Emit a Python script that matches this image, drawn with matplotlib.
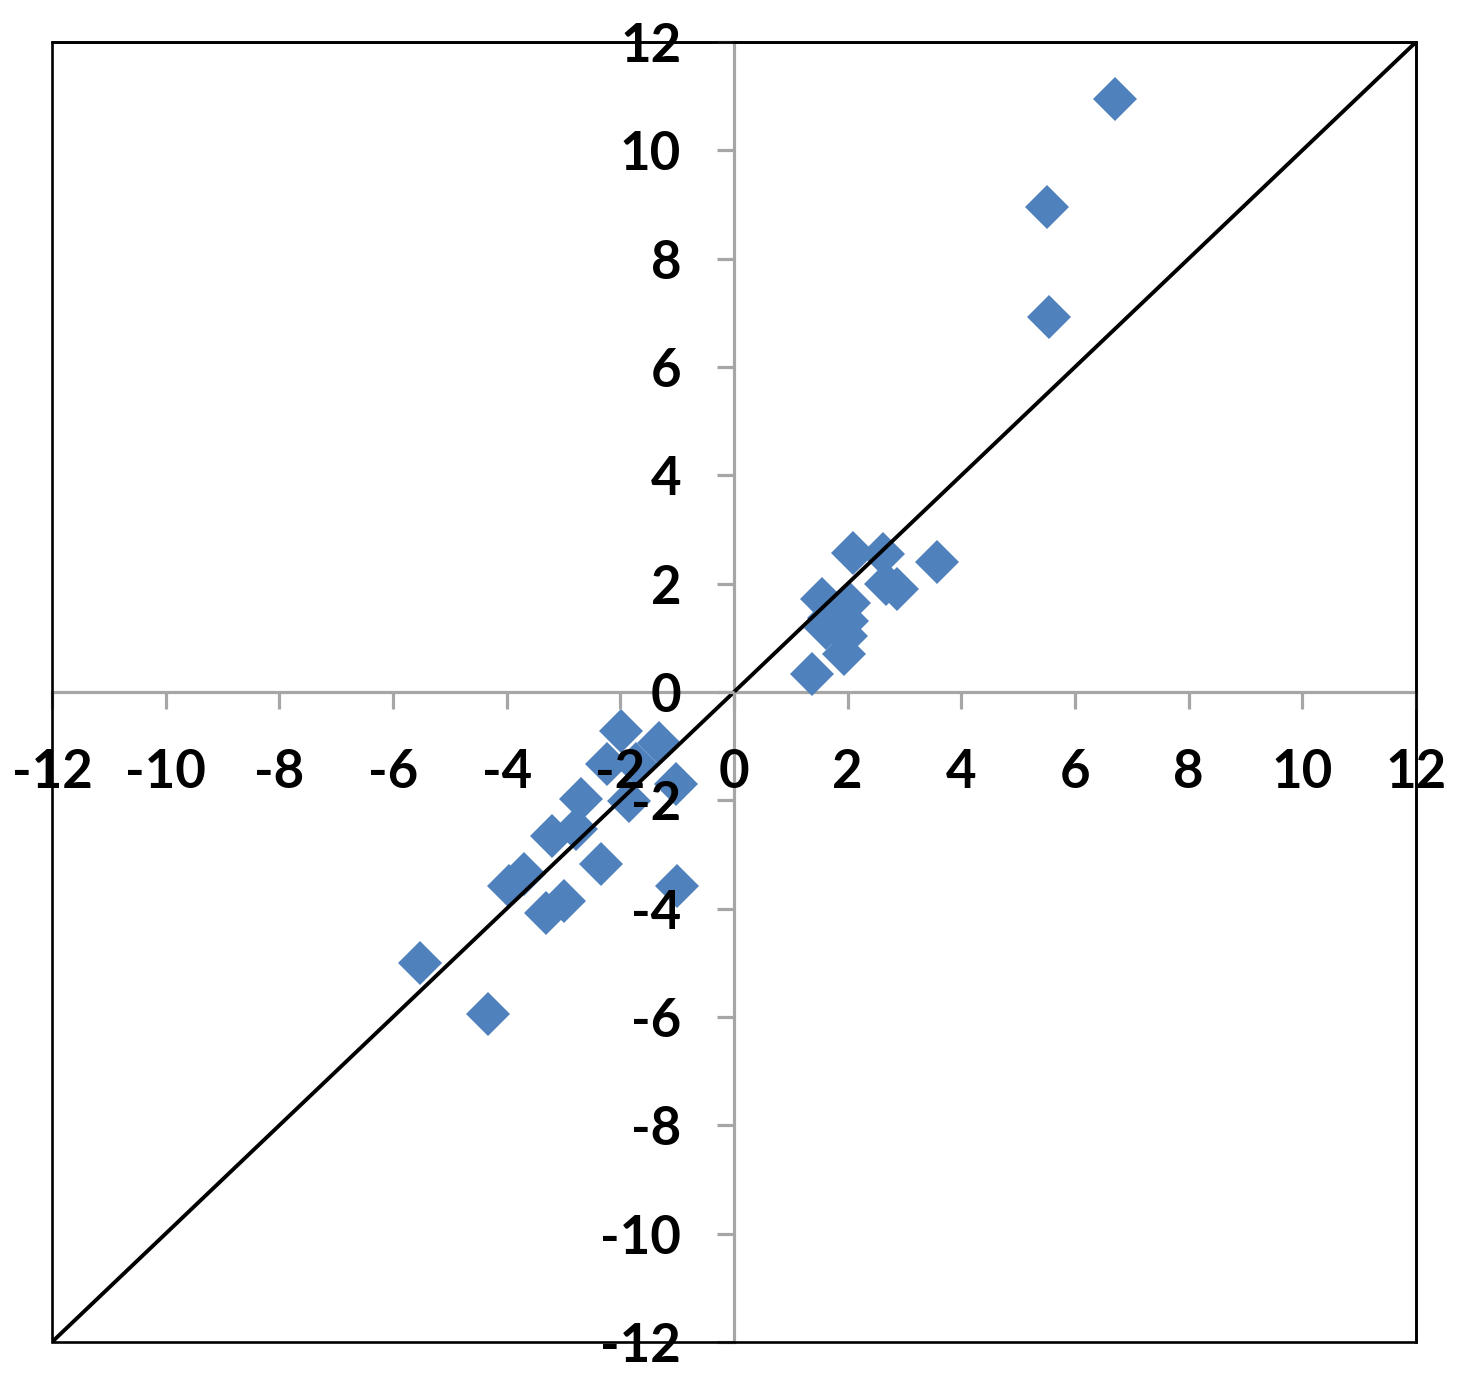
import matplotlib
matplotlib.use("Agg")
import matplotlib.pyplot as plt
from matplotlib.patches import Rectangle

# Data
x_vals = [6.7, 5.5, 5.55, 3.57, 2.1, 2.62, 2.68, 2.87, 1.55, 2.02, 1.67, 1.99,
          1.62, 1.97, 1.94, 1.37, -1.99, -1.32, -2.24, -1.73, -1.02, -1.85,
          -2.69, -2.78, -3.2, -2.34, -1.0, -3.96, -3.7, -3.31, -2.99, -5.53, -4.33]
y_vals = [10.95, 8.96, 6.93, 2.4, 2.57, 2.55, 2.0, 1.9, 1.72, 1.65, 1.37, 1.31,
          1.18, 1.04, 0.7, 0.33, -0.72, -0.94, -1.33, -1.33, -1.7, -2.01,
          -1.98, -2.53, -2.66, -3.18, -3.59, -3.59, -3.36, -4.08, -3.86, -5.01, -5.95]
line_x = [-12, 12]
line_y = [-12, 12]
ticks = [-12, -10, -8, -6, -4, -2, 0, 2, 4, 6, 8, 10, 12]
tick_labels = [str(t) for t in ticks]

plt.rcParams['font.family'] = ['Lato', 'DejaVu Sans']

fig = plt.figure(figsize=(14.6, 13.8), dpi=100)
ax = fig.add_axes([52/1460, 1 - 1342/1380, (1416-52)/1460, (1342-42)/1380])
ax.set_axisbelow(False)

ax.plot(x_vals, y_vals, linestyle='none', marker='D', markersize=22,
        color='#4F81BD', markeredgewidth=0, zorder=1)
ax.plot(line_x, line_y, color='black', linewidth=2.8, zorder=2)

ax.set_xlim(-12, 12)
ax.set_ylim(-12, 12)

gray = '#A6A6A6'
for s in ['left', 'bottom']:
    ax.spines[s].set_position(('data', 0))
    ax.spines[s].set_color(gray)
    ax.spines[s].set_linewidth(2.3)
    ax.spines[s].set_zorder(0.8)
for s in ['top', 'right']:
    ax.spines[s].set_color('black')
    ax.spines[s].set_linewidth(1.9)

ax.add_patch(Rectangle((0, 0), 1, 1, transform=ax.transAxes, fill=False,
                       edgecolor='black', linewidth=1.9, clip_on=False, zorder=3))

ax.set_xticks(ticks)
ax.set_xticklabels(tick_labels)
ax.set_yticks(ticks)
ax.set_yticklabels(tick_labels)
ax.tick_params(axis='both', direction='out', length=12, width=2.3, color=gray,
               labelsize=38)
ax.tick_params(axis='x', pad=28)
ax.tick_params(axis='y', pad=26)
for lab in ax.get_xticklabels() + ax.get_yticklabels():
    lab.set_fontweight('bold')

fig.savefig('out.png', dpi=100)
